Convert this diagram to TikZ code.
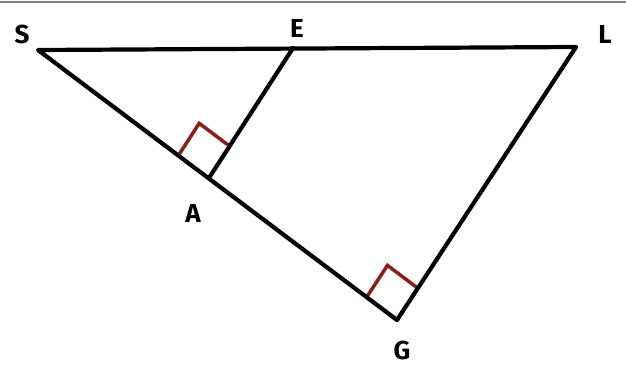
\documentclass[tikz,border=0pt]{standalone}
\usepackage{fontspec}
\setmainfont{Fira Sans}
\usepackage{xcolor}
\usepackage{tikz}
\usetikzlibrary{calc}
\definecolor{markred}{RGB}{140,30,20}
\tikzset{
  side/.style={line width=4.2pt, black, line join=round, line cap=round},
  rmark/.style={line width=3.5pt, markred, line join=miter},
  vtx/.style={font=\fontsize{26}{26}\selectfont\bfseries, inner sep=0pt},
  frame/.style={line width=2pt, black!50},
}

\begin{document}
\begin{tikzpicture}[x=1pt,y=-1pt]
\useasboundingbox (0,0) rectangle (626,365);
\draw[frame] (0,1.5) -- (626,1.5);
% vertices
\coordinate (S) at (38,50);
\coordinate (E) at (293,48);
\coordinate (L) at (576,47);
\coordinate (G) at (397,320);
\coordinate (A) at (209,178);
% right angle marks
\coordinate (a1) at ($(A)!38pt!(S)$);
\coordinate (a2) at ($(A)!38pt!(E)$);
\draw[rmark] (a1) -- ($(a1)+(a2)-(A)$) -- (a2);
\coordinate (g1) at ($(G)!38pt!(S)$);
\coordinate (g2) at ($(G)!38pt!(L)$);
\draw[rmark] (g1) -- ($(g1)+(g2)-(G)$) -- (g2);
% sides
\draw[side] (S) -- (L) -- (G) -- cycle;
\draw[side] (E) -- (A);
% labels
\node[vtx] (lS) at (22,34) {S};
\node[vtx] (lE) at (297,28) {E};
\node[vtx] (lL) at (605,34) {L};
\node[vtx] (lA) at (193,213) {A};
\node[vtx] (lG) at (402,350) {G};
\end{tikzpicture}
\end{document}
